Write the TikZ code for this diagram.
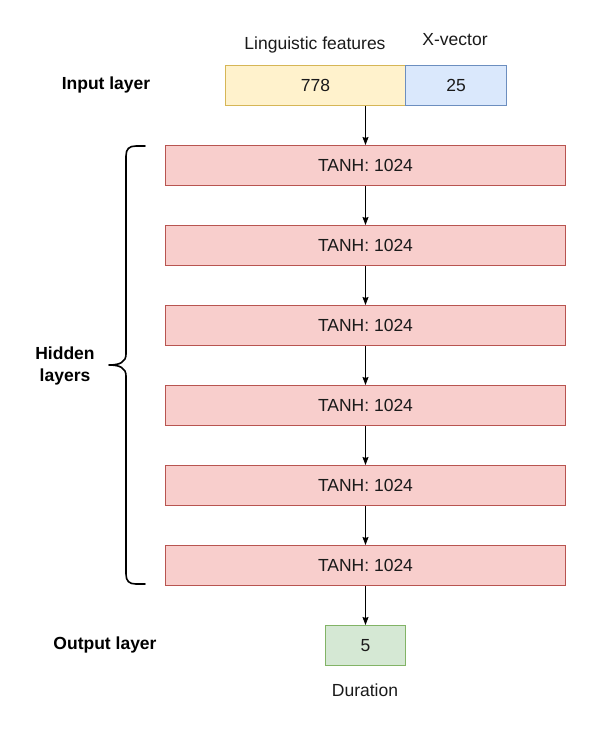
\documentclass[tikz,border=0pt]{standalone}
\usepackage{fontspec}
\setmainfont{Liberation Sans}
\usetikzlibrary{arrows.meta}
\definecolor{yfill}{HTML}{FFF2CC}\definecolor{ydraw}{HTML}{D6B656}
\definecolor{bfill}{HTML}{DAE8FC}\definecolor{bdraw}{HTML}{6C8EBF}
\definecolor{rfill}{HTML}{F8CECC}\definecolor{rdraw}{HTML}{B85450}
\definecolor{gfill}{HTML}{D5E8D4}\definecolor{gdraw}{HTML}{82B366}
\definecolor{txt}{HTML}{1A1A1A}
\begin{document}
\begin{tikzpicture}[x=1pt,y=-1pt,
  every node/.style={font=\fontsize{17.5}{21}\selectfont, text=txt, inner sep=0pt},
  box/.style={draw, line width=1pt, minimum height=40pt, anchor=north west},
  hid/.style={box, fill=rfill, draw=rdraw, minimum width=400pt},
  lbl/.style={font=\fontsize{17.5}{22}\selectfont\bfseries, text=black, align=center},
  arr/.style={line width=1pt, -{Stealth[length=8pt,width=6pt,inset=1pt]}}]
\useasboundingbox (0,0) rectangle (591,731);
\fill[white] (0,0) rectangle (591,731);
% input layer
\node[box, fill=yfill, draw=ydraw, minimum width=180pt] (lf) at (225,65) {778};
\node[box, fill=bfill, draw=bdraw, minimum width=101pt] (xv) at (405,65) {25};
\node (lft) at (315,45) {Linguistic features};
\node (xvt) at (455,40) {X-vector};
\node[lbl] (inl) at (106,85) {Input layer};
% hidden layers
\node[hid] (h1) at (165,145) {TANH: 1024};
\node[hid] (h2) at (165,225) {TANH: 1024};
\node[hid] (h3) at (165,305) {TANH: 1024};
\node[hid] (h4) at (165,385) {TANH: 1024};
\node[hid] (h5) at (165,465) {TANH: 1024};
\node[hid] (h6) at (165,545) {TANH: 1024};
\node[lbl] (hl) at (65,366) {Hidden\\layers};
% output
\node[box, fill=gfill, draw=gdraw, minimum width=80pt] (out) at (325,625) {5};
\node (dur) at (365,690) {Duration};
\node[lbl] (ol) at (105,645) {Output layer};
% arrows
\draw[arr] (lf.south -| h1.north) -- (h1.north);
\draw[arr] (h1.south) -- (h2.north);
\draw[arr] (h2.south) -- (h3.north);
\draw[arr] (h3.south) -- (h4.north);
\draw[arr] (h4.south) -- (h5.north);
\draw[arr] (h5.south) -- (h6.north);
\draw[arr] (h6.south) -- (h6.south |- out.north);
% brace
\draw[line width=1.6pt, line cap=round, line join=round]
  (145,146) -- (136,146) .. controls (129,146) and (126,149) .. (126,156)
  -- (126,354) .. controls (126,362) and (120,365) .. (109,365)
  .. controls (120,365) and (126,368) .. (126,376)
  -- (126,574) .. controls (126,581) and (129,584) .. (136,584) -- (145,584);
\end{tikzpicture}
\end{document}
